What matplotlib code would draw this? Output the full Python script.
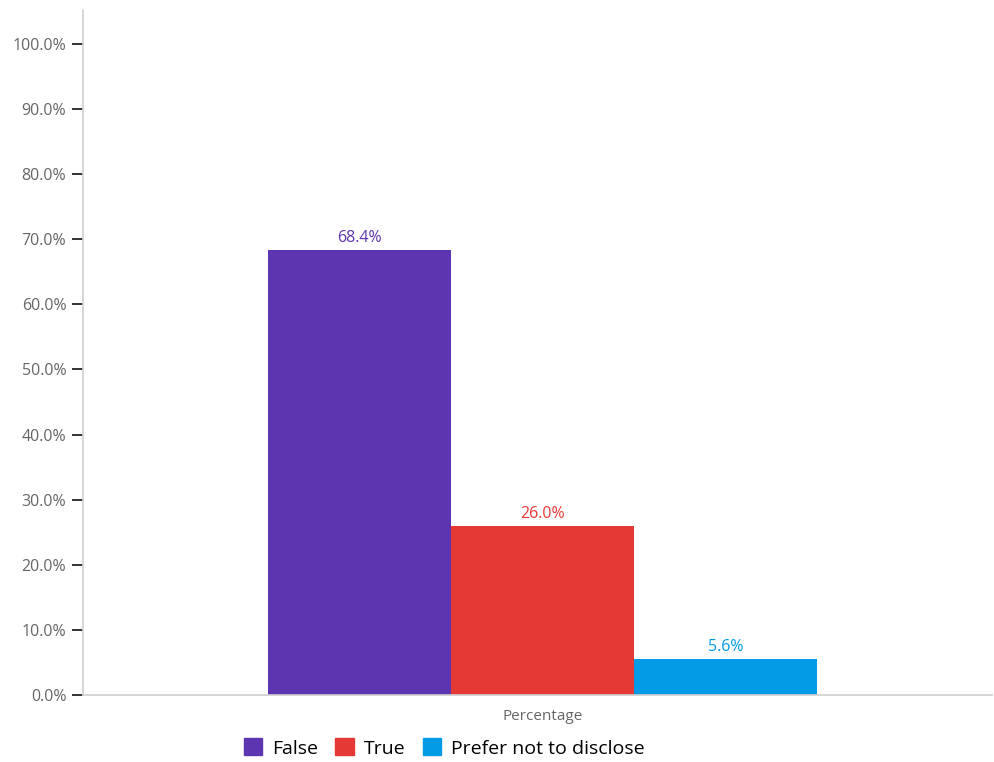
import matplotlib.pyplot as plt
from matplotlib.patches import Patch
import matplotlib.ticker as mticker

plt.rcParams["font.family"] = ["Open Sans", "DejaVu Sans"]

categories = ["False", "True", "Prefer not to disclose"]
values = [68.4, 26.0, 5.6]
colors = ["#5E35B1", "#E53935", "#039BE5"]
group_label = "Percentage"

fig = plt.figure(figsize=(9.94, 7.62), dpi=100)
ax = fig.add_axes([83 / 994, 1 - 695 / 762, 909 / 994, 685 / 762])

x = [-1, 0, 1]
ax.bar(x, values, width=1.0, color=colors)
for xi, v, c in zip(x, values, colors):
    ax.text(xi, v + 0.5, f"{v:.1f}%", ha="center", va="bottom", color=c, fontsize=11.5)

ax.set_xlim(-2.51, 2.456)
ax.set_ylim(0, 105.2)
ax.set_yticks(range(0, 101, 10))
ax.yaxis.set_major_formatter(mticker.FuncFormatter(lambda v, p: f"{v:.1f}%"))
ax.tick_params(axis="y", length=8, width=1.3, color="#222222", labelcolor="#666666",
               labelsize=11.5, pad=4)
ax.set_xticks([0])
ax.set_xticklabels([group_label])
ax.tick_params(axis="x", length=0, labelcolor="#666666", labelsize=11, pad=10)

for s in ["top", "right"]:
    ax.spines[s].set_visible(False)
for s in ["left", "bottom"]:
    ax.spines[s].set_color("#d0d0d0")
    ax.spines[s].set_linewidth(1.2)

handles = [Patch(color=c, label=l) for c, l in zip(colors, categories)]
fig.legend(handles=handles, loc="center left", bbox_to_anchor=(226 / 994, 1 - 748 / 762),
           ncol=3, frameon=False, fontsize=14, handlelength=0.95, handleheight=0.95,
           handletextpad=0.5, columnspacing=0.9)

fig.savefig("out.png", dpi=100)
